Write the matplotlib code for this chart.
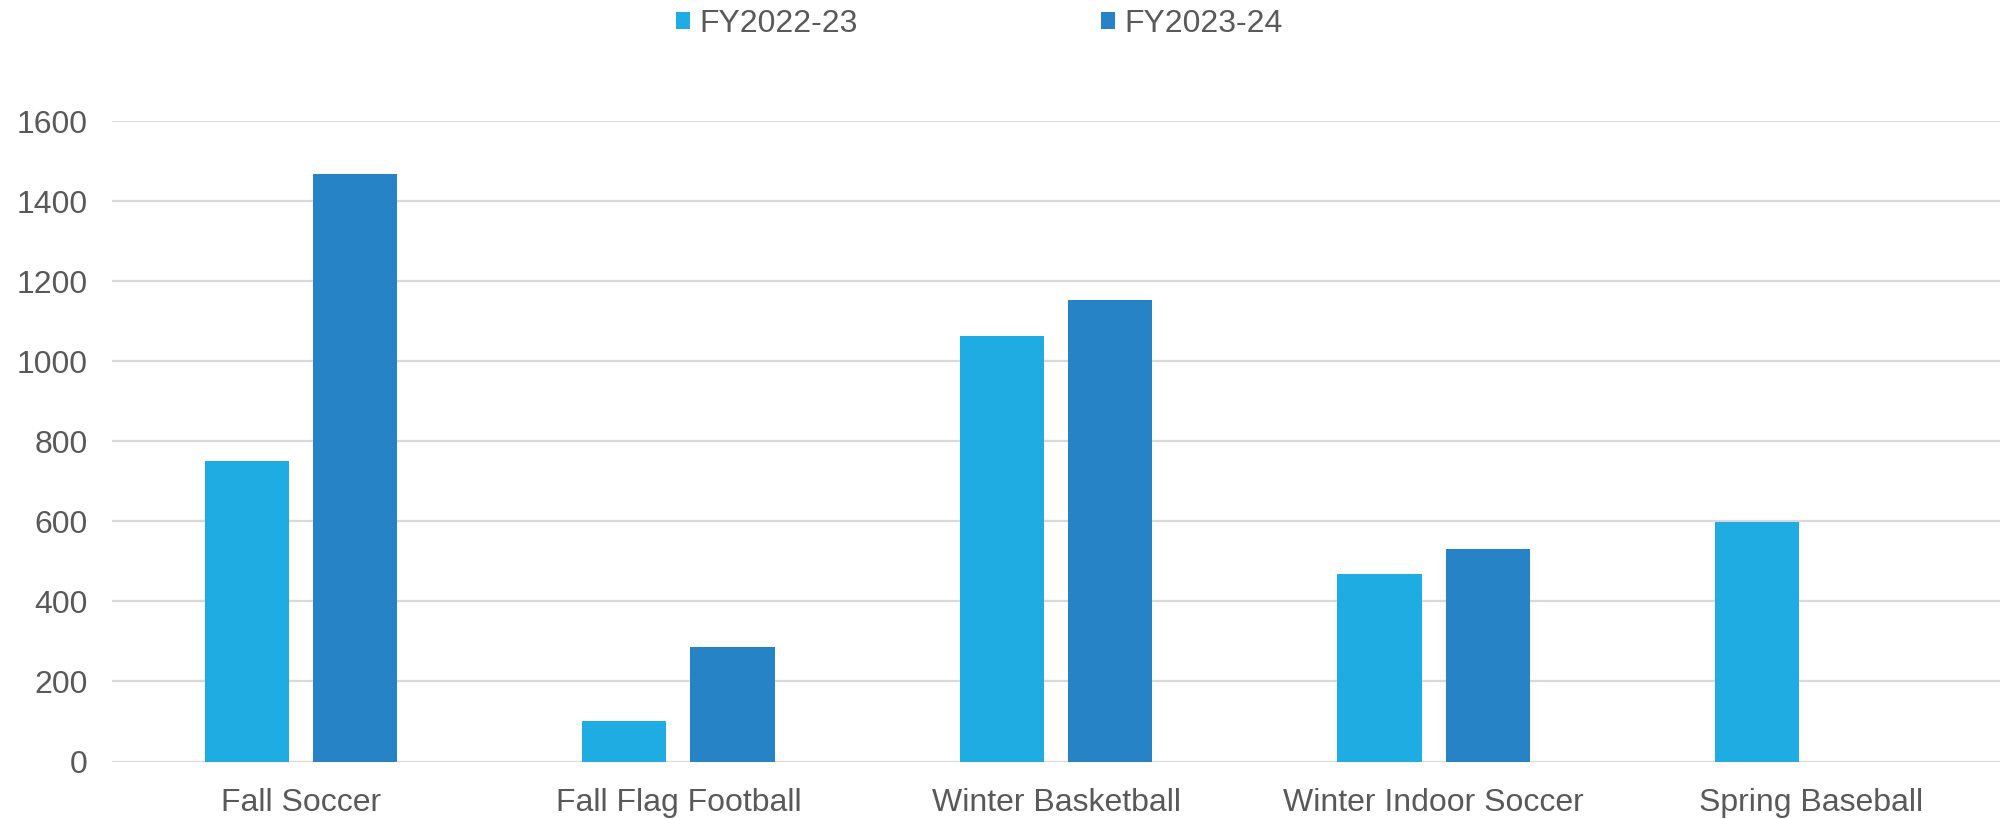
import numpy as np
import matplotlib.pyplot as plt

plt.rcParams['font.family'] = ['Liberation Sans', 'DejaVu Sans']

# program registrations by season
programs = ['Fall Soccer', 'Fall Flag Football', 'Winter Basketball',
            'Winter Indoor Soccer', 'Spring Baseball']
fy2223 = [751, 102, 1063, 468, 599]
fy2324 = [1468, 287, 1153, 532, np.nan]

c_prev = '#1EACE2'
c_curr = '#2683C6'
txt = '#595959'

fig = plt.figure(figsize=(20, 8.19), dpi=100)
ax = fig.add_axes([0.056, 0.0702, 0.944, 0.7818])

x = np.arange(len(programs))
w = 0.223
off = 0.1435
ax.bar(x - off, fy2223, width=w, color=c_prev, label='FY2022-23', zorder=3)
ax.bar(x + off, fy2324, width=w, color=c_curr, label='FY2023-24', zorder=3)

ax.set_xlim(-0.5, len(programs) - 0.5)
ax.set_ylim(0, 1600)
ax.set_yticks(range(0, 1601, 200))
ax.set_xticks(x)
ax.set_xticklabels(programs)
ax.grid(axis='y', color='#D9D9D9', linewidth=1.6, zorder=0)
for s in ax.spines.values():
    s.set_visible(False)
ax.tick_params(axis='both', length=0, labelsize=23, colors=txt)
ax.tick_params(axis='y', pad=17.5)
ax.tick_params(axis='x', pad=19)

leg = fig.legend(loc='center', bbox_to_anchor=(0.4897, 0.971), ncol=2,
                 frameon=False, fontsize=23, handlelength=0.45,
                 handleheight=0.45, handletextpad=0.3, columnspacing=7.6)
for t in leg.get_texts():
    t.set_color(txt)

fig.savefig('out.png', dpi=100)
